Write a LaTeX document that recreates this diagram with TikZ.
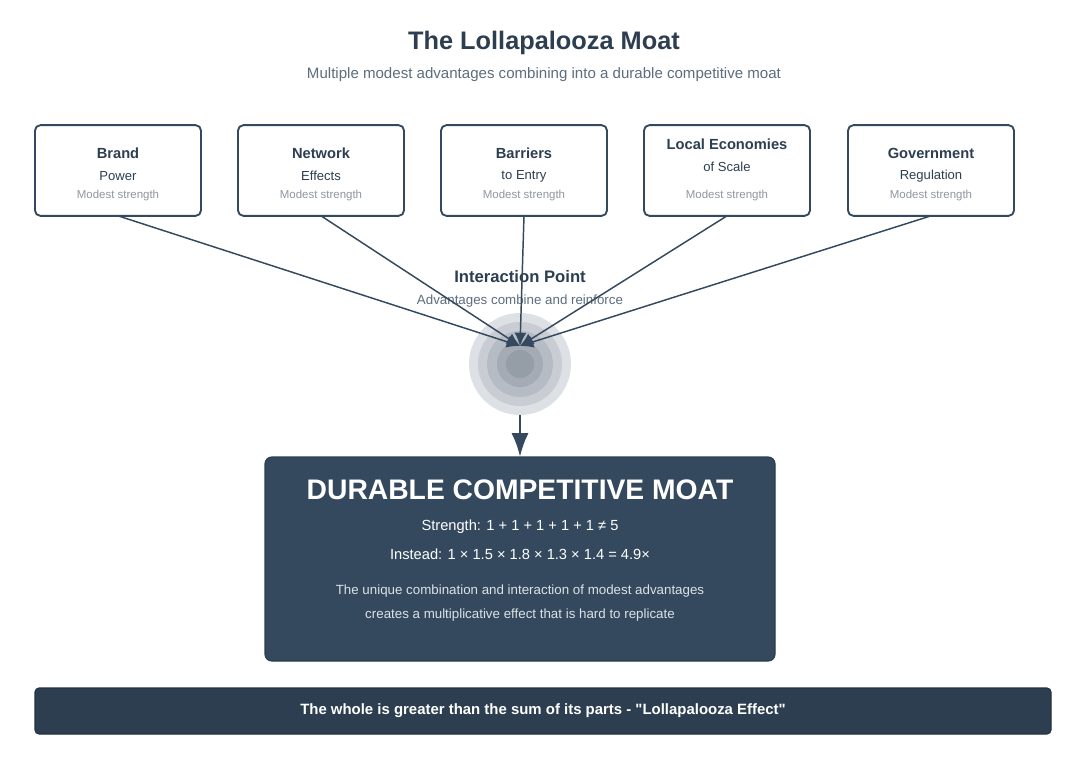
\documentclass[tikz,border=0pt]{standalone}
\usepackage{fontspec}
\setmainfont{Liberation Sans}
\usetikzlibrary{arrows.meta,positioning,calc}
\definecolor{ink}{HTML}{2C3E50}
\definecolor{slate}{HTML}{34495E}
\definecolor{muted}{HTML}{5D6D7E}
\definecolor{faint}{HTML}{8E979F}
\definecolor{para}{HTML}{DCE1E6}

\tikzset{
  advbox/.style={draw=slate,line width=1.4pt,fill=white,rounded corners=4pt,
    minimum width=124.5pt,minimum height=68pt},
  advhead/.style={font=\fontsize{11}{13}\selectfont\bfseries,text=ink},
  advsub/.style={font=\fontsize{9.8}{11}\selectfont,text=ink},
  advnote/.style={font=\fontsize{8.6}{10}\selectfont,text=faint},
  feed/.style={->,draw=slate,line width=1.1pt,>={Latex[length=10pt,width=9pt]}},
  moatline/.style={font=\fontsize{11}{13}\selectfont,text=white}
}

\begin{document}
\begin{tikzpicture}[x=0.75pt,y=-0.75pt,every node/.style={inner sep=0pt,outer sep=0pt}]
\useasboundingbox[fill=white] (0,0) rectangle (1088,778);
% title
\node[font=\fontsize{19}{22}\selectfont\bfseries,text=ink] (title) at (544,43) {The Lollapalooza Moat};
\node[font=\fontsize{11.3}{13}\selectfont,text=muted] (subtitle) at (544,75) {Multiple modest advantages combining into a durable competitive moat};
% advantage boxes
\foreach \i/\x/\hd/\sub/\dy in {1/118/Brand/Power/0,2/321/Network/Effects/0,3/524/Barriers/{to Entry}/0,
    4/727/{Local Economies}/{of Scale}/-9,5/931/Government/Regulation/0}{
  \node[advbox] (b\i) at (\x,170.5) {};
  \node[advhead] (b\i h) at (\x,153+\dy) {\hd};
  \node[advsub] (b\i s) at (\x,176+\dy) {\sub};
  \node[advnote] (b\i n) at (\x,196) {Modest strength};
}
% interaction point
\node[font=\fontsize{12.5}{14}\selectfont\bfseries,text=ink] (ip) at (520,277) {Interaction Point};
\node[font=\fontsize{10}{12}\selectfont,text=muted] (ipsub) at (520,301) {Advantages combine and reinforce};
\foreach \r/\c in {51/DDE0E4,42/C9CDD3,33/B6BCC4,23/A4ABB4,14/959DA7}{
  \definecolor{ring}{HTML}{\c}
  \fill[ring] (520,364) circle (\r*0.75pt);
}
\node[circle,minimum size=76.5pt] (hub) at (520,364) {};
\coordinate (meet) at (520,346);
\foreach \i in {1,...,5}{
  \draw[feed] (b\i.south) -- (meet);
}
% moat
\node[fill=slate,draw=ink,line width=0.8pt,rounded corners=5pt,minimum width=382.5pt,minimum height=153pt] (moat) at (520,559) {};
\draw[->,draw=slate,line width=2.2pt,>={Latex[length=18pt,width=13pt]}] (hub.south) -- (moat.north);
\node[font=\fontsize{21.2}{25}\selectfont\bfseries,text=white] (moathead) at (520,490) {DURABLE COMPETITIVE MOAT};
\node[moatline] (sum) at (520,527) {Strength: 1 + 1 + 1 + 1 + 1 ≠ 5};
\node[moatline] (prod) at (520,554) {Instead: 1 × 1.5 × 1.8 × 1.3 × 1.4 = 4.9×};
\node[font=\fontsize{10}{17.5}\selectfont,text=para,align=center] (expl) at (520,603)
  {The unique combination and interaction of modest advantages\\creates a multiplicative effect that is hard to replicate};
% footer
\node[fill=ink,draw=ink!80!black,line width=0.8pt,rounded corners=3pt,minimum width=762pt,minimum height=34.5pt,
  font=\fontsize{11.2}{13}\selectfont\bfseries,text=white] (footer) at (543,711)
  {The whole is greater than the sum of its parts - \textquotedbl Lollapalooza Effect\textquotedbl};
\end{tikzpicture}
\end{document}
